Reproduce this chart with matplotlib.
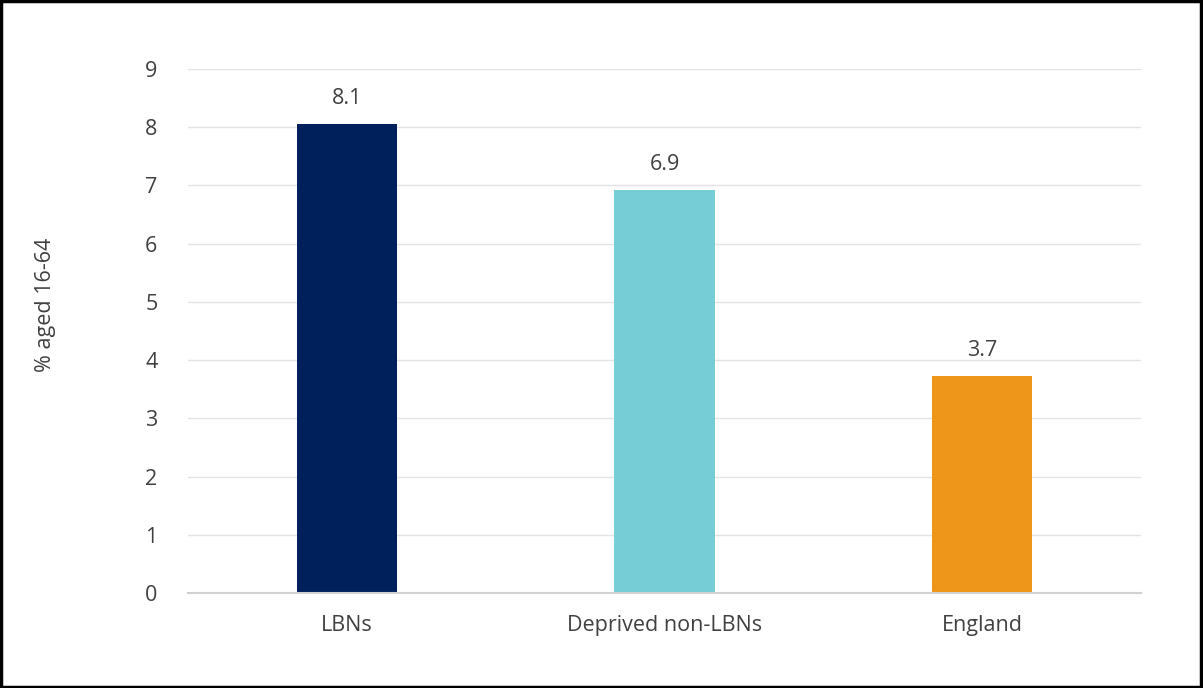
import matplotlib
matplotlib.use("Agg")
import matplotlib.pyplot as plt
from matplotlib.patches import Rectangle

categories = ["LBNs", "Deprived non-LBNs", "England"]
values = [8.05, 6.92, 3.72]
value_labels = ["8.1", "6.9", "3.7"]
bar_colors = ["#00205B", "#77CDD5", "#EE961A"]
yticks = list(range(0, 10))

plt.rcParams["font.family"] = ["Open Sans", "DejaVu Sans"]
text_color = "#404040"
fs = 15.5

fig = plt.figure(figsize=(12.03, 6.88), dpi=100)
ax = fig.add_axes([188 / 1203, 1 - 593 / 688, (1141 - 188) / 1203, (593 - 69) / 688])

x = list(range(len(categories)))
ax.bar(x, values, width=0.315, color=bar_colors, zorder=3)
for xi, v, lab in zip(x, values, value_labels):
    ax.text(xi, v + 0.26, lab, ha="center", va="bottom", fontsize=fs, color=text_color)

ax.set_xlim(-0.5, 2.5)
ax.set_ylim(0, 9)
ax.set_yticks(yticks)
ax.set_xticks(x)
ax.set_xticklabels(categories)
ax.tick_params(axis="both", length=0, labelsize=fs, colors=text_color)
ax.tick_params(axis="y", pad=22)
ax.tick_params(axis="x", pad=16)
ax.grid(axis="y", color="#e3e3e3", lw=1, zorder=0)
for s in ["top", "right", "left"]:
    ax.spines[s].set_visible(False)
ax.spines["bottom"].set_color("#d0d0d0")
ax.spines["bottom"].set_linewidth(1.5)
ax.spines["bottom"].set_zorder(4)

fig.text(45 / 1203, 1 - 305 / 688, "% aged 16-64", rotation=90, ha="center", va="center",
         fontsize=fs, color=text_color)

fig.patches.append(Rectangle((0.001, 0.001), 0.997, 0.997, transform=fig.transFigure,
                             fill=False, edgecolor="black", lw=2.5))

fig.savefig("out.png", dpi=100)
